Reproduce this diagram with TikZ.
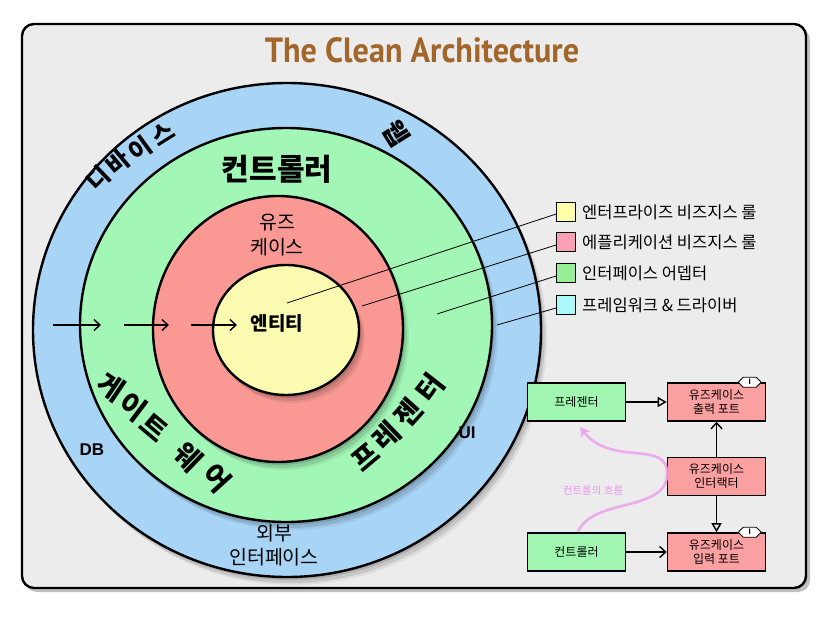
\documentclass[tikz,border=0pt]{standalone}
\usepackage{fontspec}
\setmainfont{Noto Sans CJK KR}
\newfontfamily\titlefont{PT Sans}
\newfontfamily\latinsans{Liberation Sans}
\usetikzlibrary{arrows.meta}
\definecolor{bggray}{RGB}{236,236,236}
\definecolor{ringblue}{RGB}{168,212,246}
\definecolor{ringgreen}{RGB}{162,246,182}
\definecolor{ringred}{RGB}{250,152,148}
\definecolor{ringyellow}{RGB}{250,250,176}
\definecolor{lgyellow}{RGB}{255,255,170}
\definecolor{lgpink}{RGB}{250,160,180}
\definecolor{lggreen}{RGB}{150,238,150}
\definecolor{lgcyan}{RGB}{170,248,250}
\definecolor{boxgreen}{RGB}{160,246,176}
\definecolor{boxred}{RGB}{250,160,160}
\definecolor{titlebrown}{RGB}{162,102,42}
\definecolor{flowpink}{RGB}{236,164,236}
\tikzset{
  ring/.style={draw=black, line width=2.4pt},
  arclabel/.style={font=\bfseries\fontsize{28}{28}\selectfont, inner sep=0pt},
  smallarc/.style={font=\bfseries\fontsize{24}{24}\selectfont, inner sep=0pt},
  legendbox/.style={draw=black, line width=0.8pt, minimum width=19pt, minimum height=19pt, inner sep=0pt},
  legendtext/.style={font=\fontsize{16.5}{17}\selectfont, anchor=west, inner sep=0pt},
  leader/.style={draw=black, line width=0.8pt},
  umlbox/.style={draw=black, line width=1.6pt, minimum width=98pt, minimum height=38pt, inner sep=1pt, align=center, font=\fontsize{12}{14}\selectfont},
  openhead/.style={-{Triangle[open,length=9pt,width=10pt]}, line width=1.4pt},
  stickhead/.style={-{Straight Barb[length=6pt,width=11pt]}, line width=1.4pt},
}
\begin{document}
\begin{tikzpicture}[x=1pt,y=-1pt]
\useasboundingbox (0,0) rectangle (826,618);
\fill[white] (0,0) rectangle (826,618);
% frame
\fill[black, opacity=0.25, rounded corners=12pt] (25,28) rectangle (810,592);
\draw[fill=bggray, line width=2.4pt, rounded corners=12pt] (22,24) rectangle (806,588);
\node[font=\titlefont\bfseries\fontsize{35}{35}\selectfont, text=titlebrown, xscale=0.92] (title) at (422,50) {The Clean Architecture};
% rings
\foreach \dx/\dy/\op in {2/3/0.12,4/6/0.1,6/8/0.06}{
  \fill[black, opacity=\op] (287+\dx,330+\dy) ellipse [x radius=254pt, y radius=247pt];}
\draw[ring, fill=ringblue] (287,330) ellipse [x radius=254pt, y radius=247pt];
\foreach \dx/\dy/\op in {2/3/0.12,4/6/0.1,6/8/0.06}{
  \fill[black, opacity=\op] (286+\dx,325+\dy) ellipse [x radius=206pt, y radius=197pt];}
\draw[ring, fill=ringgreen] (286,325) ellipse [x radius=206pt, y radius=197pt];
\foreach \dx/\dy/\op in {2/3/0.12,4/6/0.1,6/8/0.06}{
  \fill[black, opacity=\op] (278+\dx,329+\dy) ellipse [x radius=125pt, y radius=133pt];}
\draw[ring, fill=ringred] (278,329) ellipse [x radius=125pt, y radius=133pt];
\foreach \dx/\dy/\op in {2/3/0.12,4/6/0.1,6/8/0.06}{
  \fill[black, opacity=\op] (286+\dx,330+\dy) ellipse [x radius=73pt, y radius=65pt];}
\draw[ring, fill=ringyellow] (286,330) ellipse [x radius=73pt, y radius=65pt];
% ring texts
\node[font=\bfseries\fontsize{30}{30}\selectfont] (ctrl) at (277,169) {컨트롤러};
\node[font=\fontsize{19.5}{25}\selectfont, align=center] (usecase) at (277,235) {유즈\\케이스};
\node[font=\bfseries\fontsize{19}{19}\selectfont] (entity) at (277,323) {엔티티};
\node[font=\fontsize{19.5}{24}\selectfont, align=center] (extif) at (274,545) {외부\\인터페이스};
\node[font=\latinsans\bfseries\fontsize{17}{17}\selectfont] (db) at (92,450) {DB};
\node[font=\latinsans\bfseries\fontsize{17}{17}\selectfont] (ui) at (467,433) {UI};
% 디바이스
\node[smallarc, rotate=44] (d1) at (98,178) {디};
\node[smallarc, rotate=40] (d2) at (118,163) {바};
\node[smallarc, rotate=36] (d3) at (140,149) {이};
\node[smallarc, rotate=32] (d4) at (163,134) {스};
\node[smallarc, font=\bfseries\fontsize{26}{26}\selectfont, rotate=-58] (web) at (396,133) {웹};
% 게이트 웨어
\node[arclabel, rotate=-34] (g1) at (111,387) {게};
\node[arclabel, rotate=-37] (g2) at (133,407) {이};
\node[arclabel, rotate=-40] (g3) at (154,427) {트};
\node[arclabel, rotate=-44] (g4) at (188,457) {웨};
\node[arclabel, rotate=-48] (g5) at (217,478) {어};
% 프레젠터
\node[arclabel, rotate=40] (p1) at (365,457) {프};
\node[arclabel, rotate=44] (p2) at (386,436) {레};
\node[arclabel, rotate=48] (p3) at (408,413) {젠};
\node[arclabel, rotate=52] (p4) at (430,388) {터};
% inward arrows
\coordinate (a1s) at (53,325); \coordinate (a1e) at (101,325);
\coordinate (a2s) at (124,325); \coordinate (a2e) at (169,325);
\coordinate (a3s) at (191,325); \coordinate (a3e) at (237,325);
\draw[stickhead] (a1s) -- (a1e);
\draw[stickhead] (a2s) -- (a2e);
\draw[stickhead] (a3s) -- (a3e);
% legend
\node[legendbox, fill=lgyellow] (L1) at (566,212) {};
\node[legendbox, fill=lgpink] (L2) at (566,242) {};
\node[legendbox, fill=lggreen] (L3) at (566,273) {};
\node[legendbox, fill=lgcyan] (L4) at (566,305) {};
\node[legendtext] (T1) at (582,212) {엔터프라이즈 비즈지스 룰};
\node[legendtext] (T2) at (582,242) {에플리케이션 비즈지스 룰};
\node[legendtext] (T3) at (582,273) {인터페이스 어뎁터};
\node[legendtext] (T4) at (582,305) {프레임워크 \& 드라이버};
\coordinate (e1) at (287,303);
\coordinate (e2) at (362,306);
\coordinate (e3) at (437,314);
\coordinate (e4) at (497,325);
\draw[leader] (e1) -- (L1.west |- 0,214);
\draw[leader] (e2) -- (L2.west |- 0,245);
\draw[leader] (e3) -- (L3.west |- 0,276);
\draw[leader] (e4) -- (L4.west |- 0,308);
% UML
\node[umlbox, fill=boxgreen] (pres) at (576.5,402) {프레젠터};
\node[umlbox, fill=boxred] (outp) at (716.5,402) {유즈케이스\\출력 포트};
\node[umlbox, fill=boxred] (inter) at (716.5,476.5) {유즈케이스\\인터랙터};
\node[umlbox, fill=boxgreen] (ctrlbox) at (576.5,552) {컨트롤러};
\node[umlbox, fill=boxred] (inp) at (716.5,552) {유즈케이스\\입력 포트};
\draw[openhead] (pres) -- (outp);
\draw[stickhead] (inter) -- (outp);
\draw[openhead] (inter) -- (inp);
\draw[stickhead] (ctrlbox) -- (inp);
\foreach \b in {outp, inp}{
  \draw[fill=white, line width=0.9pt] ([xshift=-28pt]\b.north east) -- ++(5,-5) -- ++(13,0) -- ++(5,5) -- ++(-5,5) -- ++(-13,0) -- cycle;
  \node[font=\latinsans\bfseries\fontsize{8}{8}\selectfont, inner sep=0pt] at ([xshift=-16.5pt]\b.north east) {I};
}
% flow of control
\coordinate (fstart) at (578,532);
\coordinate (fmid) at (667,476);
\coordinate (fend) at (580,427);
\draw[draw=flowpink, line width=2.6pt, -{Stealth[length=10pt,width=11pt]}, opacity=0.9]
  (fstart) .. controls (592,498) and (664,512) .. (fmid)
  .. controls (670,438) and (612,468) .. (fend);
\node[font=\fontsize{10.5}{11}\selectfont, text=flowpink!90!magenta] (flowlbl) at (593,491) {컨트롤의 흐름};
\end{tikzpicture}
\end{document}
